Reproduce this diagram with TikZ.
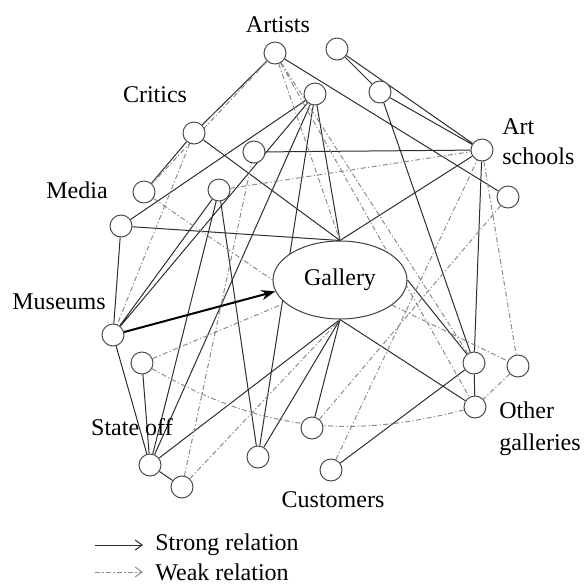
\documentclass[tikz,border=0pt]{standalone}
\usepackage{fontspec}
\setmainfont{Liberation Serif}
\usetikzlibrary{arrows.meta,shapes,backgrounds}

\tikzset{
  actor/.style={circle,draw=black!70,fill=white,line width=0.5pt,minimum size=11pt,inner sep=0pt},
  strong/.style={draw=black!82,line width=0.5pt},
  weak/.style={draw=black!45,line width=0.5pt,dash pattern=on 2.5pt off 1.2pt on 0.6pt off 1.2pt},
  lbl/.style={font=\fontsize{12}{15}\selectfont,inner sep=0pt,align=left}
}

\begin{document}
\begin{tikzpicture}[x=0.5pt,y=-0.5pt]
\useasboundingbox (0,0) rectangle (585,586);
% actors
\node[actor](a1)at(275,53){};
\node[actor](a2)at(337,49){};
\node[actor](a3)at(380,92){};
\node[actor](c1)at(315,94){};
\node[actor](cr)at(194,133){};
\node[actor](cr2)at(254,152){};
\node[actor](as)at(482,150){};
\node[actor](me)at(144,192){};
\node[actor](m2)at(219,190){};
\node[actor](as2)at(508,197){};
\node[actor](m3)at(121,226){};
\node[actor](mu)at(113,335){};
\node[actor](s1)at(142,363){};
\node[actor](og1)at(474,363){};
\node[actor](og2)at(518,366){};
\node[actor](og3)at(475,407){};
\node[actor](cu1)at(312,428){};
\node[actor](cu2)at(258,457){};
\node[actor](s2)at(150,465){};
\node[actor](cu3)at(331,470){};
\node[actor](s3)at(182,487){};
\node[ellipse,draw=black!75,fill=white,line width=0.5pt,minimum width=67pt,minimum height=39pt,inner sep=0pt,font=\fontsize{12}{15}\selectfont](g)at(340,280){Gallery};
% labels
\node[lbl](lartists)at(278,25){Artists};
\node[lbl](lcritics)at(155,95){Critics};
\node[lbl,anchor=west](lschools)at(502,142){Art\\schools};
\node[lbl](lmedia)at(77,190){Media};
\node[lbl](lmuseums)at(59,302){Museums};
\node[lbl](lstate)at(132,427){State off};
\node[lbl,anchor=west](lgalleries)at(499,429){Other\\[1pt]galleries};
\node[lbl](lcustomers)at(333,500){Customers};
% relations
\begin{scope}[on background layer]
\draw[strong](a1)--(cr) (a1)--(as2) (a2)--(as) (a2)--(a3) (a3)--(as) (a3)--(og1);
\draw[strong](cr)--(me) (cr)--(g.north) (cr2)--(as) (m3)--(g.north) (m3)--(c1) (m3)--(mu);
\draw[strong](mu)--(m2) (mu)--(c1) (s2)--(mu) (s2)--(s1) (s2)--(s3) (s2)--(m2) (s2)--(c1) (s2)--(g.south);
\draw[strong](cu2)--(m2) (cu2)--(c1) (cu2)--(g.south) (cu1)--(g.south) (cu3)--(og1) (c1)--(g.north);
\draw[strong](g.north)--(as) (g.east)--(og1) (g.south)--(og3) (og1)--(og3) (as)--(og1);
\draw[weak](a1)--(me) (a1)--(g.north) (a1)--(og1) (a1)--(og3) (cr)--(mu) (me)--(g.west);
\draw[weak](m2)--(as) (s1)--(g) (s1)to[bend right=22](og3) (s3)--(cr2) (s3)--(g.south);
\draw[weak](cu3)--(as) (as2)--(cu1) (as)--(og2) (og2)--(og3) (g)--(og2);
\end{scope}
\draw[line width=1pt,-{Stealth[length=7pt,width=5pt]}](mu)--(g.190);
% legend
\coordinate(ls1)at(95,545); \coordinate(ls2)at(143,545);
\coordinate(lw1)at(95,572); \coordinate(lw2)at(143,572);
\draw[strong,-{Straight Barb[length=3.5pt,width=5pt]}](ls1)--(ls2);
\draw[weak,-{Straight Barb[length=3.5pt,width=5pt]}](lw1)--(lw2);
\node[lbl,anchor=west](lstrong)at(155,545){Strong relation};
\node[lbl,anchor=west](lweak)at(155,572){Weak relation};
\end{tikzpicture}
\end{document}
